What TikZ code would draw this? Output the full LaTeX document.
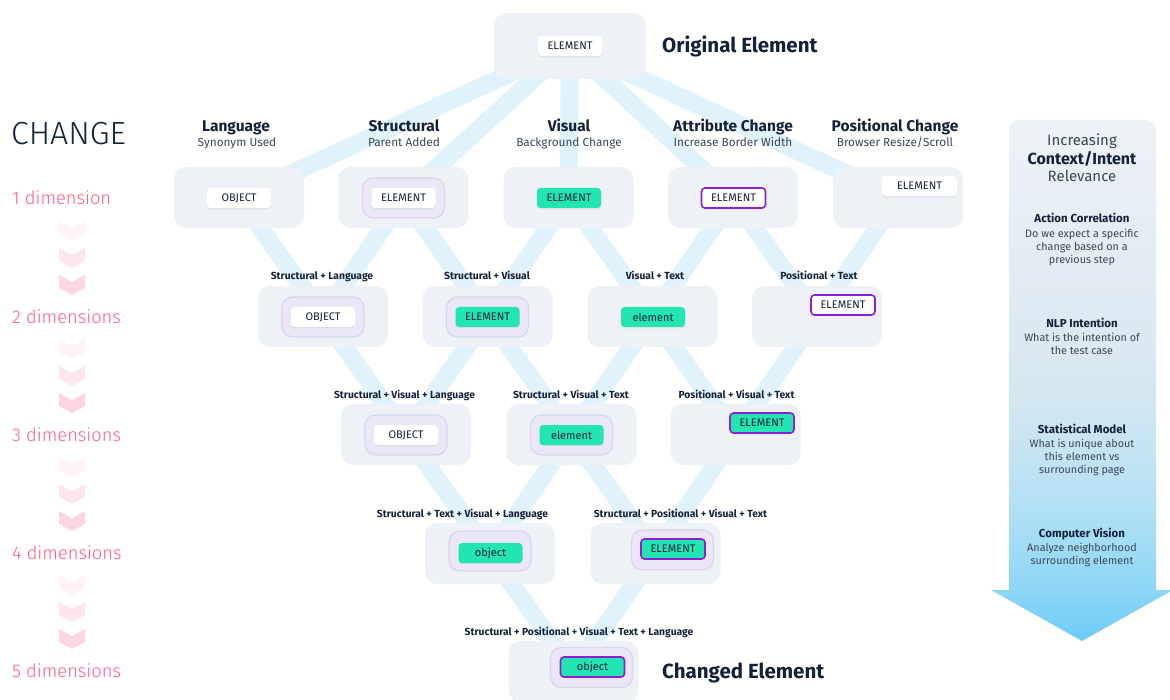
\documentclass[tikz,border=0pt]{standalone}
\usepackage{fontspec}
\setmainfont{Fira Sans}
\newfontfamily\lightfont{Fira Sans Light}
\usetikzlibrary{shadows,backgrounds}

\definecolor{boxbg}{HTML}{EEF1F6}
\definecolor{linkblue}{HTML}{E0F2FB}
\definecolor{halofill}{HTML}{ECE7F6}
\definecolor{halodraw}{HTML}{DCD4F1}
\definecolor{chipgreen}{HTML}{22E5B2}
\definecolor{chippurple}{HTML}{8A1FD4}
\definecolor{ink}{HTML}{15213A}
\definecolor{subink}{HTML}{3B4657}
\definecolor{dimpink}{HTML}{FF5C84}
\definecolor{chev}{HTML}{FBCFDA}
\definecolor{ctxA}{HTML}{6ECBF6}
\definecolor{ctxB}{HTML}{8DD6F6}
\definecolor{ctxC}{HTML}{B5E1F4}
\definecolor{ctxD}{HTML}{D3E7F1}
\definecolor{ctxE}{HTML}{E0EAF2}
\definecolor{ctxF}{HTML}{EEF2F7}

% vertical fade of the context arrow (25bp = tip, 75bp = top edge)
\pgfdeclareverticalshading{ctxfade}{100bp}{%
  color(0bp)=(ctxA); color(25bp)=(ctxA); color(29.9bp)=(ctxB);
  color(38.5bp)=(ctxC); color(48.1bp)=(ctxD); color(57.7bp)=(ctxE);
  color(75bp)=(ctxF); color(100bp)=(ctxF)}

\tikzset{
  stage/.style={fill=boxbg, rounded corners=12pt, minimum width=130pt,
    minimum height=61pt, inner sep=0pt},
  halo/.style={fill=halofill, draw=halodraw, line width=1.2pt,
    rounded corners=11pt, minimum width=82pt, minimum height=40pt, inner sep=0pt},
  chip/.style={rounded corners=3.5pt, minimum width=64pt, minimum height=20pt,
    inner sep=0pt, font=\fontsize{11}{12}\selectfont, text=ink,
    drop shadow={opacity=0.13, shadow xshift=0pt, shadow yshift=-1.3pt}},
  plainchip/.style={chip, fill=white},
  greenchip/.style={chip, fill=chipgreen},
  ringed/.style={draw=chippurple, line width=1.6pt},
  link/.style={line width=18pt, draw=linkblue},
  title/.style={anchor=base, font=\fontsize{15.5}{17}\selectfont\bfseries, text=ink, inner sep=0pt},
  subtitle/.style={anchor=base, font=\fontsize{11.8}{13}\selectfont, text=subink, inner sep=0pt},
  combo/.style={anchor=base, font=\fontsize{10.3}{12}\selectfont\bfseries, text=ink, inner sep=0pt},
  dimlabel/.style={anchor=base west, font=\lightfont\fontsize{18.3}{20}\selectfont,
    text=dimpink, inner sep=0pt},
  headline/.style={anchor=base west, font=\fontsize{20.5}{24}\selectfont\bfseries,
    text=ink, inner sep=0pt},
  sidebig/.style={anchor=base, font=\fontsize{15}{17}\selectfont, text=subink, inner sep=0pt},
  sidehead/.style={anchor=base, font=\fontsize{11.5}{13}\selectfont\bfseries, text=ink, inner sep=0pt},
  % placed by the baseline of the last line
  sidetext/.style={anchor=base, font=\fontsize{10.8}{13}\selectfont, text=subink,
    align=center, inner sep=0pt},
}

\begin{document}
\begin{tikzpicture}[x=1pt,y=-1pt]
\useasboundingbox (0,0) rectangle (1170,700);

% ---------- left column: change dimensions ----------
\node[anchor=base west, font=\lightfont\fontsize{32}{36}\selectfont, text=ink, inner sep=0pt]
  (change) at (11,145) {CHANGE};
\node[dimlabel] (d1) at (12,205) {1 dimension};
\node[dimlabel] (d2) at (12,323.5) {2 dimensions};
\node[dimlabel] (d3) at (12,441.5) {3 dimensions};
\node[dimlabel] (d4) at (12,559.5) {4 dimensions};
\node[dimlabel] (d5) at (12,677.5) {5 dimensions};
\foreach \b in {198,316,434,552}{
  \foreach \o/\op in {23/0.22,50/0.5,77/0.85}{
    \fill[chev, opacity=\op] (59,\b+\o) -- (72,\b+\o+7) -- (85,\b+\o)
      -- (85,\b+\o+13) -- (72,\b+\o+20) -- (59,\b+\o+13) -- cycle;
  }
}

% ---------- context arrow ----------
\path[shading=ctxfade] (991,590) -- (1009,590) -- (1009,130)
  arc[start angle=180, end angle=270, radius=10] -- (1146,120)
  arc[start angle=270, end angle=360, radius=10] -- (1156,590)
  -- (1173,590) -- (1082,641) -- cycle;
\node[sidebig] (inc) at (1082,146) {Increasing};
\node[sidebig, font=\fontsize{16}{18}\selectfont\bfseries, text=ink] (ctx) at (1082,164.5) {Context/Intent};
\node[sidebig] (rel) at (1082,182) {Relevance};
\node[sidehead] (ach) at (1082,223) {Action Correlation};
\node[sidetext] (act) at (1082,264) {Do we expect a specific\\change based on a\\previous step};
\node[sidehead] (nlph) at (1082,328) {NLP Intention};
\node[sidetext] (nlpt) at (1082,355) {What is the intention of\\the test case};
\node[sidehead] (stah) at (1082,433) {Statistical Model};
\node[sidetext] (stat) at (1082,473) {What is unique about\\this element vs\\surrounding page};
\node[sidehead] (cvh) at (1082,537) {Computer Vision};
\node[sidetext] (cvt) at (1082,564) {Analyze neighborhood\\surrounding element};

% ---------- original element ----------
\node[stage, minimum width=152pt, minimum height=66pt] (orig) at (570,46) {};
\node[plainchip] at (570,46) {ELEMENT};
\node[headline] (origlbl) at (662,52.5) {Original Element};

% ---------- 1 dimension ----------
\node[title] at (236,131.5) {Language};
\node[subtitle] at (237,147) {Synonym Used};
\node[title] at (404,131.5) {Structural};
\node[subtitle] at (404,147) {Parent Added};
\node[title] at (569,131.5) {Visual};
\node[subtitle] at (569,147) {Background Change};
\node[title] at (733,131.5) {Attribute Change};
\node[subtitle] at (733,147) {Increase Border Width};
\node[title] at (895,131.5) {Positional Change};
\node[subtitle] at (895,147) {Browser Resize/Scroll};

\node[stage] (lang) at (239,197.5) {};
\node[plainchip] at (239,198) {OBJECT};
\node[stage] (struct) at (403.5,197.5) {};
\node[halo] at (403.5,198) {};
\node[plainchip] at (403.5,198) {ELEMENT};
\node[stage] (vis) at (568.5,197.5) {};
\node[greenchip] at (569,198) {ELEMENT};
\node[stage] (attr) at (733,197.5) {};
\node[plainchip, ringed] at (733.5,198) {ELEMENT};
\node[stage] (pos) at (898,197.5) {};
\node[plainchip, minimum width=75pt] at (919.5,186) {ELEMENT};

% ---------- 2 dimensions ----------
\node[combo] at (322,280) {Structural + Language};
\node[combo] at (487,280) {Structural + Visual};
\node[combo] at (655,280) {Visual + Text};
\node[combo] at (819,280) {Positional + Text};

\node[stage] (sl) at (323,316.5) {};
\node[halo] at (323,317) {};
\node[plainchip] at (323,317) {OBJECT};
\node[stage] (sv) at (487.5,316.5) {};
\node[halo] at (487.5,317) {};
\node[greenchip] at (487.5,317) {ELEMENT};
\node[stage] (vt) at (652.5,316.5) {};
\node[greenchip] at (653,317) {element};
\node[stage] (pt) at (817,316.5) {};
\node[plainchip, ringed] at (843,305) {ELEMENT};

% ---------- 3 dimensions ----------
\node[combo] at (404.5,398.5) {Structural + Visual + Language};
\node[combo] at (571,398.5) {Structural + Visual + Text};
\node[combo] at (736.5,398.5) {Positional + Visual + Text};

\node[stage] (svl) at (406,434.5) {};
\node[halo] at (406,435) {};
\node[plainchip] at (406,435) {OBJECT};
\node[stage] (svt) at (571.5,434.5) {};
\node[halo] at (571.5,435) {};
\node[greenchip] at (571.5,435) {element};
\node[stage] (pvt) at (735.5,434.5) {};
\node[greenchip, ringed] at (762,423) {ELEMENT};

% ---------- 4 dimensions ----------
\node[combo] at (462.5,517) {Structural + Text + Visual + Language};
\node[combo] at (680.5,517) {Structural + Positional + Visual + Text};

\node[stage] (stvl) at (490,553.5) {};
\node[halo] at (490,551) {};
\node[greenchip] at (490.5,553) {object};
\node[stage] (spvt) at (655.5,553.5) {};
\node[halo] at (672.5,550) {};
\node[greenchip, ringed] at (673,549) {ELEMENT};

% ---------- 5 dimensions ----------
\node[combo] at (579,635) {Structural + Positional + Visual + Text + Language};
\node[stage] (all) at (573.5,671.5) {};
\node[halo] at (591.5,667.5) {};
\node[greenchip, ringed] at (592.5,667) {object};
\node[headline] (chglbl) at (662,678) {Changed Element};

% ---------- connectors of the change lattice ----------
\begin{scope}[on background layer]
  \foreach \t in {lang,struct,vis,attr,pos}
    \draw[link] (orig.center) -- (\t.center);
  \foreach \a/\b in {lang/sl, struct/sl, struct/sv, vis/sv, vis/vt,
                     attr/vt, attr/pt, pos/pt,
                     sl/svl, sv/svl, sv/svt, vt/svt, vt/pvt, pt/pvt,
                     svl/stvl, svt/stvl, svt/spvt, pvt/spvt,
                     stvl/all, spvt/all}
    \draw[link] (\a.center) -- (\b.center);
\end{scope}
\end{tikzpicture}
\end{document}
